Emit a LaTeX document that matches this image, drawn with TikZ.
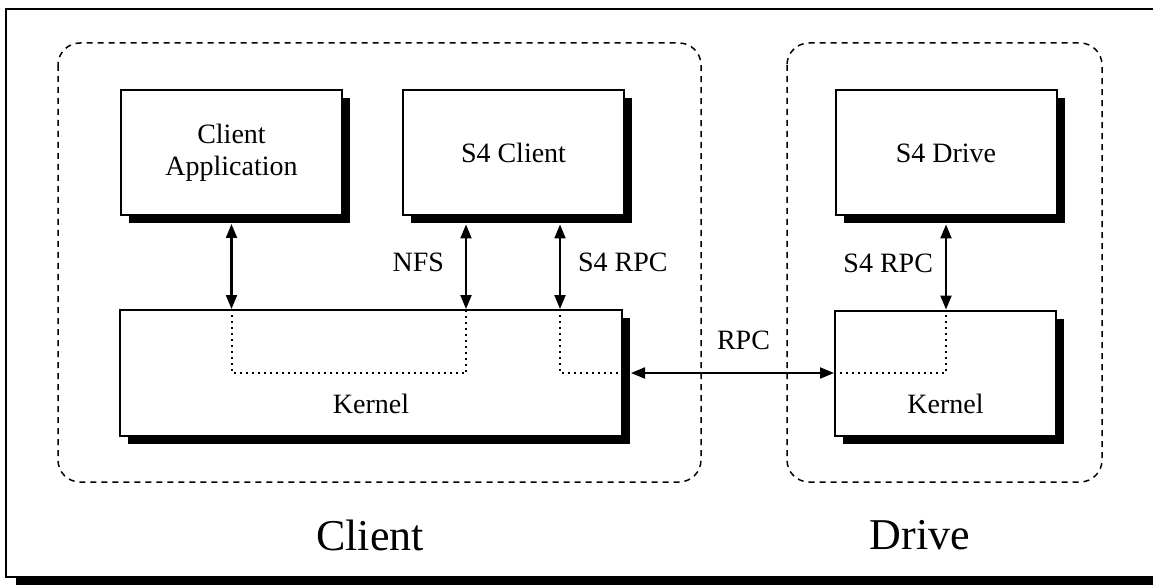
\documentclass[tikz,border=0pt]{standalone}
\usepackage{fontspec}
\setmainfont{Liberation Serif}
\usetikzlibrary{arrows.meta, positioning, shadows}
\tikzstyle{module}=[rectangle, draw=black, fill=white, line width=2pt, minimum width=221pt, minimum height=125pt, align=center, font=\fontsize{28}{32}\selectfont, general shadow={fill=black, shadow xshift=8pt, shadow yshift=-8pt}]
\tikzstyle{machine}=[draw=black, line width=1.5pt, dash pattern=on 6pt off 5pt, rounded corners=22pt]
\tikzstyle{trace}=[line width=2pt, dash pattern=on 2pt off 4pt]
\tikzstyle{link}=[<->, line width=2.1pt]
\tikzstyle{tag}=[inner sep=0pt, font=\fontsize{28}{32}\selectfont]
\tikzstyle{bigtag}=[inner sep=0pt, font=\fontsize{44}{50}\selectfont]

\begin{document}
\begin{tikzpicture}[x=1pt, y=-1pt, >={Triangle[length=14pt, width=11pt]}, font=\fontsize{28}{32}\selectfont]
  \useasboundingbox (0,0) rectangle (1153,585);
  % frame
  \fill (16,577) rectangle (1170,592);
  \draw[line width=2.2pt] (6,9) rectangle (1170,577);

  \draw[machine] (58,43) rectangle (701,482);
  \draw[machine] (787,43) rectangle (1102,482);

  \node[module] (capp) at (231.5,152.5) {Client\\Application};
  \node[module] (s4c) at (513.5,153) {S4 Client};
  \node[module] (s4d) at (946,153) {S4 Drive};
  \node[module, minimum width=502pt, minimum height=126pt, label={[yshift=-31pt]center:Kernel}] (kernl) at (371,373) {};
  \node[module, label={[yshift=-31pt]center:Kernel}] (kernr) at (945.5,373) {};

  \coordinate (nfs) at ([xshift=-47.5pt]s4c.south);
  \coordinate (rpc) at ([xshift=46.5pt]s4c.south);

  % calls into the kernels
  \draw[link] ([yshift=-8pt]capp.south) -- (capp.south |- kernl.north);
  \draw[link] ([yshift=-8pt]nfs) -- node[tag, left=21pt, yshift=4pt] {NFS} (nfs |- kernl.north);
  \draw[link] ([yshift=-8pt]rpc) -- node[tag, right=17pt, yshift=4pt] {S4 RPC} (rpc |- kernl.north);
  \draw[link] ([yshift=-8pt]s4d.south) -- node[tag, left=12pt, yshift=4pt] {S4 RPC} (s4d.south |- kernr.north);
  \draw[link] ([xshift=8pt]kernl.east) -- node[tag, above=22pt, xshift=11pt] {RPC} (kernr.west |- kernl.east);

  % paths through the kernels
  \draw[trace] (capp.south |- kernl.north) |- (nfs |- kernl.center) -- (nfs |- kernl.north);
  \draw[trace] (rpc |- kernl.north) |- (kernl.east);
  \draw[trace] (kernr.west |- kernl.east) -| (s4d.south |- kernr.north);

  \node[bigtag] (clientlbl) at (370,535) {Client};
  \node[bigtag] (drivelbl) at (920,535) {Drive};
\end{tikzpicture}
\end{document}
